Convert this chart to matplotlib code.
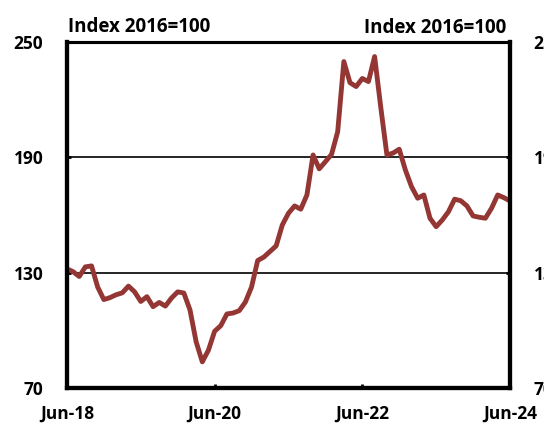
import numpy as np
import matplotlib
matplotlib.use("Agg")
import matplotlib.pyplot as plt

# monthly index, Jun-18 .. Jun-24 (2016=100)
values = [132, 130.5, 128, 133, 133.5, 122.5, 116, 117, 118.5, 119.5,
          123, 120, 115, 117.5, 112.3, 114.5, 112.6, 116.8, 120, 119.4,
          110.6, 94, 83.6, 89.7, 99.5, 102.4, 108.5, 109, 110.2, 114.7,
          122.5, 136.3, 138.1, 141, 143.9, 154.8, 160.9, 164.7, 163, 170.4,
          191.2, 184, 187.7, 191.5, 203.3, 239.8, 228.8, 226.8, 231, 229.4,
          242.4, 216, 191.2, 192.2, 194.2, 183.4, 174.7, 168.7, 170.4, 158.3,
          153.9, 157.4, 161.7, 168.2, 167.4, 164.7, 159.5, 158.8, 158.3, 163.5,
          170.4, 169, 167.3]
tick_pos = [0, 24, 48, 72]
tick_labels = ["Jun-18", "Jun-20", "Jun-22", "Jun-24"]
yticks = [70, 130, 190, 250]
unit = "Index 2016=100"

plt.rcParams['font.family'] = ['Open Sans', 'DejaVu Sans']
plt.rcParams['font.weight'] = 'bold'

fig = plt.figure(figsize=(5.44, 4.28), dpi=100)
ax = fig.add_axes([0.123, 0.0935, 0.8145, 0.8085])
months = np.arange(len(values))

for g in [130, 190]:
    ax.axhline(g, color="black", lw=1.2, zorder=1)
ax.plot(months, values, color="#943634", lw=3.5, zorder=3, solid_joinstyle="round")

ax.set_xlim(0, 72)
ax.set_ylim(70, 250)
ax.set_xticks(tick_pos)
ax.set_xticklabels(tick_labels, fontsize=12.5, fontweight="bold")
ax.set_yticks(yticks)
ax.set_yticklabels([str(v) for v in yticks], fontsize=12.5, fontweight="bold")
ax.tick_params(axis="both", direction="in", length=3, width=2, pad=17)
ax.tick_params(axis="x", pad=12)

ax2 = ax.twinx()
ax2.set_ylim(70, 250)
ax2.set_yticks(yticks)
ax2.set_yticklabels([str(v) for v in yticks], fontsize=12.5, fontweight="bold")
ax2.tick_params(axis="y", direction="in", length=3, width=2, pad=17)

for a in (ax, ax2):
    for side in ["left", "right", "bottom"]:
        a.spines[side].set_linewidth(3)
    a.spines["top"].set_linewidth(2.2)

fig.text(0.125, 0.937, unit, fontsize=13.5, fontweight="bold", va="center", ha="left")
fig.text(0.930, 0.934, unit, fontsize=13.5, fontweight="bold", va="center", ha="right")

fig.savefig("out.png", dpi=100)
